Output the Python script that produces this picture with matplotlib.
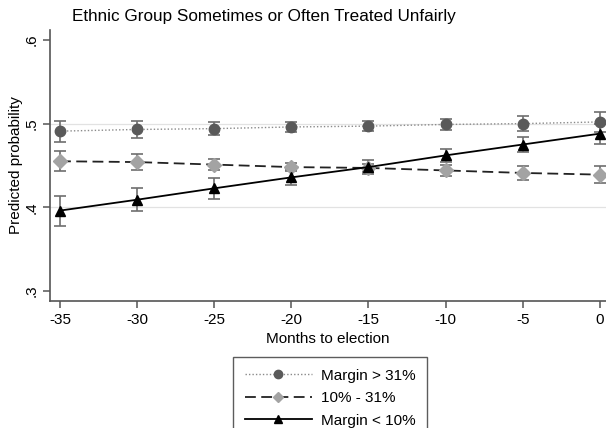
import numpy as np
import matplotlib.pyplot as plt

plt.rcParams['font.family'] = ['Liberation Sans', 'DejaVu Sans']

months = [-35, -30, -25, -20, -15, -10, -5, 0]

high = [0.491, 0.493, 0.494, 0.496, 0.497, 0.499, 0.500, 0.502]
high_err = [0.0125, 0.0097, 0.008, 0.006, 0.006, 0.007, 0.009, 0.012]

mid = [0.455, 0.454, 0.451, 0.448, 0.447, 0.444, 0.441, 0.439]
mid_err = [0.012, 0.0097, 0.0065, 0.005, 0.005, 0.0065, 0.008, 0.0105]

low = [0.396, 0.409, 0.4226, 0.4357, 0.448, 0.462, 0.475, 0.488]
low_err = [0.018, 0.014, 0.0125, 0.009, 0.008, 0.0074, 0.0087, 0.012]

fig = plt.figure(figsize=(6.06, 4.28), dpi=100)
ax = fig.add_axes([0.0825, 0.297, 0.9175, 0.633])

for y in [0.4, 0.5]:
    ax.axhline(y, color='#e2e2e2', lw=0.9, zorder=0)

ekw = dict(ecolor='#6e6e6e', elinewidth=1.2, capsize=4, capthick=1.2, zorder=2)
ax.errorbar(months, high, yerr=high_err, fmt='none', **ekw)
ax.errorbar(months, mid, yerr=mid_err, fmt='none', **ekw)
ax.errorbar(months, low, yerr=low_err, fmt='none', **ekw)

ax.plot(months, high, ls=(0, (1, 1.5)), color='#8a8a8a', lw=1.0,
        marker='o', ms=7.5, mfc='#5a5a5a', mec='#5a5a5a', label='Margin > 31%', zorder=3)
ax.plot(months, mid, ls=(0, (6, 3)), color='#222222', lw=1.3,
        marker='D', ms=7, mfc='#a3a3a3', mec='#a3a3a3', label='10% - 31%', zorder=3)
ax.plot(months, low, ls='-', color='black', lw=1.3,
        marker='^', ms=7.5, mfc='black', mec='black', label='Margin < 10%', zorder=4)

ax.set_xlim(-35.65, 0.4)
ax.set_ylim(0.288, 0.612)
ax.set_xticks(months)
ax.set_xticklabels([str(m) for m in months], fontsize=11)
ax.set_yticks([0.3, 0.4, 0.5, 0.6])
ax.set_yticklabels(['.3', '.4', '.5', '.6'], fontsize=11, rotation=90, va='center')

for side in ['top', 'right']:
    ax.spines[side].set_visible(False)
for side in ['left', 'bottom']:
    ax.spines[side].set_color('#555555')
    ax.spines[side].set_linewidth(1.2)
ax.tick_params(direction='out', length=5, width=1.1, color='#555555')

ax.set_xlabel('Months to election', fontsize=11, labelpad=4)
ax.set_ylabel('Predicted probability', fontsize=11, labelpad=1)
fig.text(0.436, 0.962, 'Ethnic Group Sometimes or Often Treated Unfairly',
         ha='center', va='center', fontsize=12.3)

leg = fig.legend(loc='upper center', bbox_to_anchor=(0.545, 0.183), fontsize=11,
                 frameon=True, fancybox=False, edgecolor='#333333',
                 handlelength=4.4, handletextpad=0.6, markerscale=0.8,
                 borderpad=0.75, labelspacing=0.55)
leg.get_frame().set_linewidth(1.0)

fig.savefig('out.png', dpi=100)
